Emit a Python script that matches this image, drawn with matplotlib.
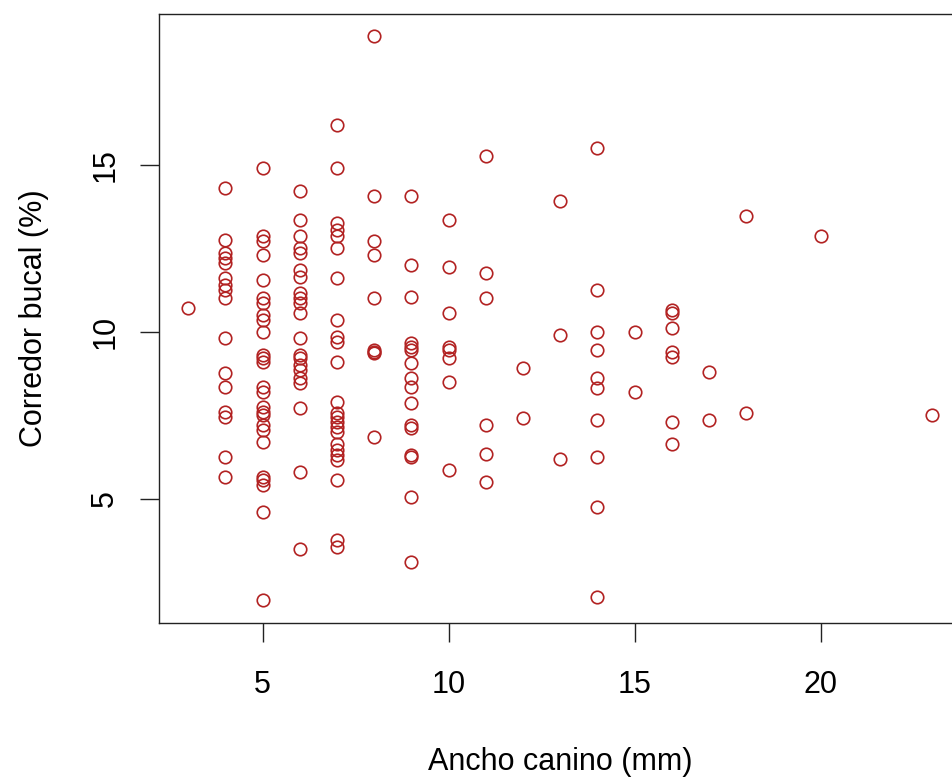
import matplotlib
matplotlib.use("Agg")
import matplotlib.pyplot as plt

# Ancho canino (mm) vs Corredor bucal (%)
ancho = [3,
         4, 4, 4, 4, 4, 4, 4, 4, 4, 4, 4, 4, 4, 4, 4, 4,
         5, 5, 5, 5, 5, 5, 5, 5, 5, 5, 5, 5, 5, 5, 5, 5, 5, 5, 5, 5, 5, 5, 5, 5, 5, 5,
         6, 6, 6, 6, 6, 6, 6, 6, 6, 6, 6, 6, 6, 6, 6, 6, 6, 6, 6, 6, 6,
         7, 7, 7, 7, 7, 7, 7, 7, 7, 7, 7, 7, 7, 7, 7, 7, 7, 7, 7, 7, 7, 7, 7, 7,
         8, 8, 8, 8, 8, 8, 8, 8, 8,
         9, 9, 9, 9, 9, 9, 9, 9, 9, 9, 9, 9, 9, 9, 9, 9,
         10, 10, 10, 10, 10, 10, 10, 10,
         11, 11, 11, 11, 11, 11,
         12, 12,
         13, 13, 13,
         14, 14, 14, 14, 14, 14, 14, 14, 14, 14,
         15, 15,
         16, 16, 16, 16, 16, 16, 16,
         17, 17,
         18, 18,
         20,
         23]

corredor = [10.7,
            14.3, 12.75, 12.35, 12.2, 12.05, 11.6, 11.4, 11.25, 11.0, 9.8, 8.75, 8.35, 7.6, 7.45, 6.25, 5.65,
            14.9, 12.85, 12.7, 12.3, 11.55, 11.0, 10.85, 10.5, 10.35, 10.0, 9.3, 9.2, 9.1, 8.35, 8.2, 7.75,
            7.6, 7.5, 7.2, 7.05, 6.7, 5.65, 5.55, 5.4, 4.6, 1.95,
            14.2, 13.35, 12.85, 12.5, 12.35, 11.85, 11.65, 11.15, 11.0, 10.85, 10.55, 9.8, 9.3, 9.2, 9.0,
            8.85, 8.6, 8.45, 7.7, 5.8, 3.5,
            16.2, 14.9, 13.25, 13.05, 12.85, 12.5, 11.6, 10.35, 9.85, 9.7, 9.1, 7.9, 7.55, 7.45, 7.3, 7.15,
            7.0, 6.65, 6.45, 6.3, 6.15, 5.55, 3.75, 3.55,
            18.85, 14.05, 12.7, 12.3, 11.0, 9.45, 9.4, 9.35, 6.85,
            14.05, 12.0, 11.05, 9.65, 9.55, 9.45, 9.05, 8.6, 8.35, 7.85, 7.2, 7.1, 6.3, 6.25, 5.05, 3.1,
            13.35, 11.95, 10.55, 9.55, 9.45, 9.2, 8.5, 5.85,
            15.25, 11.75, 11.0, 7.2, 6.35, 5.5,
            8.9, 7.4,
            13.9, 9.9, 6.2,
            15.5, 11.25, 10.0, 9.45, 8.6, 8.3, 7.35, 6.25, 4.75, 2.05,
            10.0, 8.2,
            10.65, 10.55, 10.1, 9.4, 9.25, 7.3, 6.65,
            8.8, 7.35,
            13.45, 7.55,
            12.85,
            7.5]

xticks = [5, 10, 15, 20]
yticks = [5, 10, 15]

plt.rcParams['font.family'] = ['Liberation Sans', 'DejaVu Sans']

fig = plt.figure(figsize=(9.52, 7.78), dpi=100)
ax = fig.add_axes([0.1665, 0.1992, 0.844, 0.7834])

ax.plot(ancho, corredor, linestyle='none', marker='o', markersize=9,
        markerfacecolor='none', markeredgecolor='#B22222', markeredgewidth=1.2)

# R style limits (4% padding)
xr = max(ancho) - min(ancho)
yr = max(corredor) - min(corredor)
ax.set_xlim(min(ancho) - 0.04 * xr, max(ancho) + 0.04 * xr)
ax.set_ylim(min(corredor) - 0.04 * yr, max(corredor) + 0.04 * yr)

ax.set_xticks(xticks)
ax.set_yticks(yticks)
ax.set_xticklabels([str(t) for t in xticks])
ax.set_yticklabels([str(t) for t in yticks], rotation=90, va='center')
ax.tick_params(axis='both', direction='out', length=13.5, width=1.0,
               labelsize=22, colors='#222222', labelcolor='black')
ax.tick_params(axis='x', pad=20)
ax.tick_params(axis='y', pad=14)
for s in ax.spines.values():
    s.set_linewidth(1.0)
    s.set_color('#222222')

ax.set_xlabel('Ancho canino (mm)', fontsize=22, labelpad=34)
ax.set_ylabel('Corredor bucal (%)', fontsize=22, labelpad=30)

fig.savefig('out.png', dpi=100)
